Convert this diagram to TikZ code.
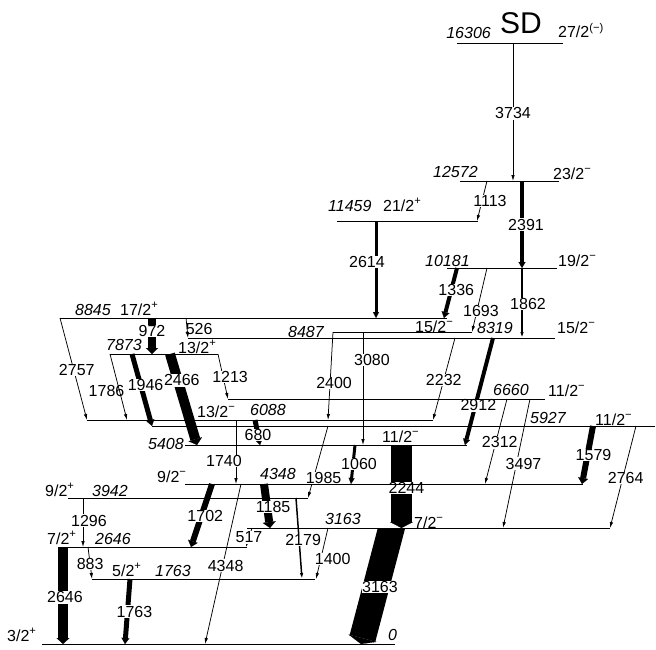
\documentclass[tikz,border=0pt]{standalone}
\usepackage{fontspec}
\setmainfont{Liberation Sans}
\usetikzlibrary{arrows.meta}

\newcommand{\glab}{\fontsize{16}{17}\selectfont}
\newcommand{\mi}{\textsuperscript{−}}
\newcommand{\pl}{\textsuperscript{+}}

\tikzset{
  lev/.style={line width=0.9pt},
  g/.style={line width=0.75pt, -{Latex[length=6pt,width=3.5pt]}},
  gw/.style 2 args={line width=#1, -{Triangle[length=6pt,width=#2,line width=0.1pt]}},
  lab/.style={fill=white, inner sep=0.5pt, font=\glab},
  labn/.style={inner sep=0.5pt, font=\glab},
  en/.style={font=\glab\itshape, inner sep=0pt},
  sp/.style={font=\glab, inner sep=0pt},
}

\begin{document}
\begin{tikzpicture}[x=1pt,y=-1pt]
\useasboundingbox (0,0) rectangle (656,650);

% level heights
\coordinate (e16306) at (0,43);
\coordinate (e12572) at (0,181);
\coordinate (e11459) at (0,221);
\coordinate (e10181) at (0,268);
\coordinate (e8845) at (0,318);
\coordinate (e8487) at (0,332);
\coordinate (e8319) at (0,338);
\coordinate (e7873) at (0,354);
\coordinate (e6660) at (0,399);
\coordinate (e6088) at (0,420);
\coordinate (e5927) at (0,426);
\coordinate (e5408) at (0,445);
\coordinate (e4348) at (0,484);
\coordinate (e3942) at (0,498);
\coordinate (e3163) at (0,528);
\coordinate (e2646) at (0,547);
\coordinate (e1763) at (0,579);
\coordinate (e0) at (0,644);

% gamma transitions
\draw[g] (513,0 |- e16306) -- node[lab,pos=.51] (t3734) {3734} (513,0 |- e12572);
\draw[gw={4pt}{7pt}] (522,0 |- e12572) -- node[lab,pos=.5,xshift=4pt] (t2391) {2391} (522,0 |- e10181);
\draw[g] (487,0 |- e12572) -- node[lab,pos=.5,xshift=8pt] (t1113) {1113} (477,0 |- e11459);
\draw[gw={3pt}{6pt}] (376,0 |- e11459) -- node[lab,pos=.42,xshift=-9pt] (t2614) {2614} (376,0 |- e8845);
\draw[gw={4pt}{8pt}] (457,0 |- e10181) -- node[lab,pos=.44,xshift=5pt] (t1336) {1336} (444,0 |- e8845);
\draw[g] (487,0 |- e10181) -- node[lab,pos=.67,xshift=4pt] (t1693) {1693} (472,0 |- e8487);
\draw[g,line width=1.5pt] (522,0 |- e10181) -- node[lab,pos=.51,xshift=6pt] (t1862) {1862} (522,0 |- e8319);
\draw[gw={8pt}{12pt}] (152,0 |- e8845) -- node[lab,pos=.36] (t972) {972} (152,0 |- e7873);
\draw[g] (186,0 |- e8845) -- node[labn,pos=.55,xshift=12pt] (t526) {526} (188,0 |- e8319);
\draw[g] (60,0 |- e8845) -- node[lab,pos=.51,xshift=3pt] (t2757) {2757} (87,0 |- e6088);
\draw[g] (110,0 |- e7873) -- node[labn,pos=.56,xshift=-13pt] (t1786) {1786} (127,0 |- e6088);
\draw[gw={5pt}{8pt}] (132,0 |- e7873) -- node[lab,pos=.43,xshift=5pt] (t1946) {1946} (152,0 |- e5927);
\draw[gw={10pt}{14pt}] (170,0 |- e7873) -- node[lab,pos=.29,xshift=4pt] (t2466) {2466} (197,0 |- e5408);
\draw[g] (218,0 |- e7873) -- node[lab,pos=.51,xshift=7pt] (t1213) {1213} (228,0 |- e6660);
\draw[g] (333,0 |- e8487) -- node[lab,pos=.58,xshift=4pt] (t2400) {2400} (328,0 |- e6088);
\draw[g] (363,0 |- e8487) -- node[lab,pos=.25,xshift=9pt] (t3080) {3080} (363,0 |- e5408);
\draw[g] (455,0 |- e8319) -- node[lab,pos=.51] (t2232) {2232} (433,0 |- e6088);
\draw[gw={4pt}{7pt}] (493,0 |- e8319) -- node[lab,pos=.63,xshift=3pt] (t2912) {2912} (465,0 |- e5408);
\draw[g] (507,0 |- e6660) -- node[lab,pos=.51,xshift=4pt] (t2312) {2312} (485,0 |- e4348);
\draw[g] (530,0 |- e6660) -- node[lab,pos=.5,xshift=7pt] (t3497) {3497} (503,0 |- e3163);
\draw[gw={6pt}{10pt}] (593,0 |- e5927) -- node[lab,pos=.5,xshift=6pt] (t1579) {1579} (582,0 |- e4348);
\draw[g] (636,0 |- e5927) -- node[lab,pos=.51,xshift=3pt] (t2764) {2764} (610,0 |- e3163);
\draw[gw={5pt}{8pt}] (255,0 |- e6088) -- node[lab,pos=.6] (t680) {680} (260,0 |- e5408);
\draw[g] (236,0 |- e6088) -- node[lab,pos=.64,xshift=-12pt] (t1740) {1740} (236,0 |- e4348);
\draw[gw={21pt}{23pt}] (401.5,0 |- e5408) -- node[lab,pos=.52,xshift=5pt] (t2244) {2244} (401.5,0 |- e3163);
\draw[gw={3pt}{6pt}] (355,0 |- e5408) -- node[lab,pos=.49,xshift=6pt] (t1060) {1060} (351,0 |- e4348);
\draw[g] (328,0 |- e5927) -- node[lab,pos=.72,xshift=10pt] (t1985) {1985} (308,0 |- e3942);
\draw[gw={8pt}{13pt}] (264,0 |- e4348) -- node[lab,pos=.53,xshift=6pt] (t1185) {1185} (270,0 |- e3163);
\draw[gw={6pt}{10pt}] (212,0 |- e4348) -- node[lab,pos=.51,xshift=4pt] (t1702) {1702} (191,0 |- e2646);
\draw[g] (241,0 |- e4348) -- node[lab,pos=.51,xshift=3pt] (t4348) {4348} (205,0 |- e0);
\draw[g,line width=1.5pt] (296,0 |- e3942) -- node[lab,pos=.52,xshift=4pt] (t2179) {2179} (302,0 |- e1763);
\draw[g] (328,0 |- e3163) -- node[lab,pos=.61,xshift=12pt] (t1400) {1400} (316,0 |- e1763);
\draw[g] (252,0 |- e3163) -- node[lab,pos=.5] (t517) {517} (246,0 |- e2646);
\begin{scope}
  \clip (0,0 |- e3163) rectangle (656,650);
  \draw[gw={26.5pt}{29pt},shorten <=-8pt] (391.5,0 |- e3163) -- node[lab,pos=.51,xshift=4pt] (t3163) {3163} (361,0 |- e0);
\end{scope}
\draw[gw={10pt}{13pt}] (63,0 |- e2646) -- node[lab,pos=.52,xshift=2pt] (t2646) {2646} (63,0 |- e0);
\draw[gw={5pt}{8pt}] (130,0 |- e1763) -- node[lab,pos=.5,xshift=7pt] (t1763) {1763} (125,0 |- e0);
\draw[g] (83,0 |- e3942) -- node[lab,pos=.46,xshift=6pt] (t1296) {1296} (83,0 |- e2646);
\draw[g] (88,0 |- e2646) -- node[lab,pos=.53] (t883) {883} (92,0 |- e1763);

% levels
\draw[lev] (457,0 |- e16306) -- (563,0 |- e16306);
\draw[lev] (460,0 |- e12572) -- (559,0 |- e12572);
\draw[lev] (337,0 |- e11459) -- (478,0 |- e11459);
\draw[lev] (447,0 |- e10181) -- (557,0 |- e10181);
\draw[lev] (60,0 |- e8845) -- (447,0 |- e8845);
\draw[lev] (333,0 |- e8487) -- (472,0 |- e8487);
\draw[lev] (188,0 |- e8319) -- (555,0 |- e8319);
\draw[lev] (110,0 |- e7873) -- (218,0 |- e7873);
\draw[lev] (228,0 |- e6660) -- (545,0 |- e6660);
\draw[lev] (87,0 |- e6088) -- (433,0 |- e6088);
\draw[lev] (152,0 |- e5927) -- (655,0 |- e5927);
\draw[lev] (185,0 |- e5408) -- (467,0 |- e5408);
\draw[lev] (185,0 |- e4348) -- (583,0 |- e4348);
\draw[lev] (68,0 |- e3942) -- (308,0 |- e3942);
\draw[lev] (247,0 |- e3163) -- (610,0 |- e3163);
\draw[lev] (58,0 |- e2646) -- (247,0 |- e2646);
\draw[lev] (92,0 |- e1763) -- (315,0 |- e1763);
\draw[lev] (42,0 |- e0) -- (395,0 |- e0);

% level labels
\node[en,anchor=base east] (n16306) at (491,39) {16306};
\node[sp,anchor=base,font=\fontsize{30}{31}\selectfont] (sd) at (521,34) {SD};
\node[sp,anchor=base west] (s16306) at (558,38) {27/2\textsuperscript{(−)}};
\node[en,anchor=base west] (n12572) at (433,177) {12572};
\node[sp,anchor=base west] (s12572) at (553,179) {23/2\mi};
\node[en,anchor=base west] (n11459) at (328,211) {11459};
\node[sp,anchor=base west] (s11459) at (383,211) {21/2\pl};
\node[en,anchor=base west] (n10181) at (425,266) {10181};
\node[sp,anchor=base west] (s10181) at (558,266) {19/2\mi};
\node[en,anchor=base west] (n8845) at (75,315) {8845};
\node[sp,anchor=base west] (s8845) at (120,315) {17/2\pl};
\node[en,anchor=base west] (n8487) at (288,337) {8487};
\node[sp,anchor=base west] (s8487) at (415,332) {15/2\mi};
\node[en,anchor=base west] (n8319) at (477,333) {8319};
\node[sp,anchor=base west] (s8319) at (557,333) {15/2\mi};
\node[en,anchor=base west] (n7873) at (106,350) {7873};
\node[sp,anchor=base west] (s7873) at (178,353) {13/2\pl};
\node[en,anchor=base west] (n6660) at (493,395) {6660};
\node[sp,anchor=base west] (s6660) at (548,396) {11/2\mi};
\node[sp,anchor=base west] (s6088) at (197,417) {13/2\mi};
\node[en,anchor=base west] (n6088) at (250,415) {6088};
\node[en,anchor=base west] (n5927) at (530,423) {5927};
\node[sp,anchor=base west] (s5927) at (595,425) {11/2\mi};
\node[en,anchor=base west] (n5408) at (148,449) {5408};
\node[sp,anchor=base west] (s5408) at (382,442) {11/2\mi};
\node[sp,anchor=base west] (s4348) at (157,482) {9/2\mi};
\node[en,anchor=base west] (n4348) at (260,479) {4348};
\node[sp,anchor=base west] (s3942) at (45,496) {9/2\pl};
\node[en,anchor=base west] (n3942) at (92,496) {3942};
\node[en,anchor=base west] (n3163) at (325,524) {3163};
\node[sp,anchor=base west] (s3163) at (414,528) {7/2\mi};
\node[sp,anchor=base west] (s2646) at (47,544) {7/2\pl};
\node[en,anchor=base west] (n2646) at (95,544) {2646};
\node[sp,anchor=base west] (s1763) at (112,576) {5/2\pl};
\node[en,anchor=base west] (n1763) at (155,576) {1763};
\node[sp,anchor=base west] (s0) at (7,641) {3/2\pl};
\node[en,anchor=base west] (n0) at (388,640) {0};
\end{tikzpicture}
\end{document}
